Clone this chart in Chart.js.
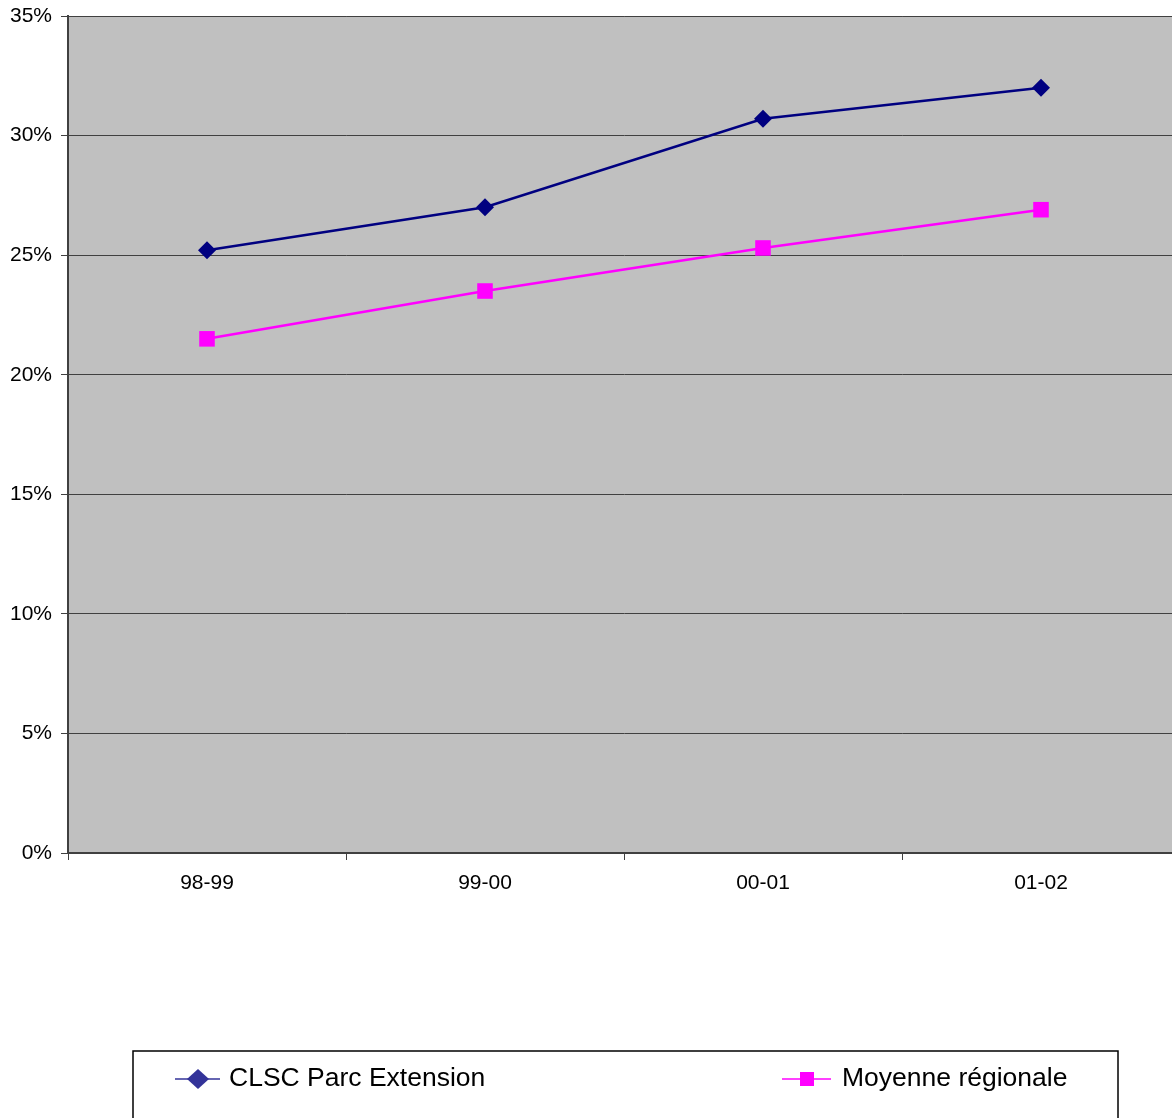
<!DOCTYPE html>
<html>
<head>
<meta charset="utf-8">
<script src="https://cdn.jsdelivr.net/npm/chart.js@4/dist/chart.umd.min.js"></script>
<style>
  html, body { margin: 0; padding: 0; background: #fff; overflow: hidden; }
  #wrap { position: relative; width: 1191px; height: 1118px; }
</style>
</head>
<body>
<div id="wrap"><canvas id="c" width="1191" height="1118"></canvas></div>
<script>
// data
const periods = ['98-99', '99-00', '00-01', '01-02'];
const clsc = [25.2, 27.0, 30.7, 32.0];
const moyenne = [21.5, 23.5, 25.3, 26.9];
const seriesNames = ['CLSC Parc Extension', 'Moyenne régionale'];

const FONT = '"Liberation Sans", Arial, sans-serif';

// grey plot background + grey top border
const plotBg = {
  id: 'plotBg',
  beforeDraw(chart) {
    const { ctx, chartArea: a } = chart;
    ctx.save();
    ctx.fillStyle = '#C0C0C0';
    ctx.fillRect(a.left, a.top, a.right - a.left, a.bottom - a.top);
    ctx.strokeStyle = '#808080';
    ctx.lineWidth = 1;
    ctx.beginPath();
    ctx.moveTo(a.left, a.top + 0.5);
    ctx.lineTo(a.right, a.top + 0.5);
    ctx.stroke();
    ctx.restore();
  }
};

// boxed legend at the bottom
const boxLegend = {
  id: 'boxLegend',
  afterDraw(chart) {
    const ctx = chart.ctx;
    ctx.save();
    ctx.strokeStyle = '#000';
    ctx.lineWidth = 1.5;
    ctx.strokeRect(133, 1051, 985, 120);
    const cy = 1079;
    ctx.font = '26.5px ' + FONT;
    ctx.fillStyle = '#000';
    ctx.textBaseline = 'middle';

    // item 1
    ctx.strokeStyle = '#333399';
    ctx.lineWidth = 1.5;
    ctx.beginPath(); ctx.moveTo(175, cy); ctx.lineTo(220, cy); ctx.stroke();
    ctx.fillStyle = '#333399';
    ctx.beginPath();
    ctx.moveTo(198, cy - 10); ctx.lineTo(209, cy); ctx.lineTo(198, cy + 10); ctx.lineTo(187, cy);
    ctx.closePath(); ctx.fill();
    ctx.fillStyle = '#000';
    ctx.fillText(seriesNames[0], 229, cy);

    // item 2
    ctx.strokeStyle = '#FF00FF';
    ctx.beginPath(); ctx.moveTo(782, cy); ctx.lineTo(831, cy); ctx.stroke();
    ctx.fillStyle = '#FF00FF';
    ctx.fillRect(800, cy - 7, 14, 14);
    ctx.fillStyle = '#000';
    ctx.fillText(seriesNames[1], 842, cy);
    ctx.restore();
  }
};

new Chart(document.getElementById('c'), {
  type: 'line',
  data: {
    labels: periods,
    datasets: [
      {
        label: seriesNames[0],
        data: clsc,
        borderColor: '#000080',
        backgroundColor: '#000080',
        borderWidth: 2.5,
        pointStyle: 'rectRot',
        pointRadius: 9,
        pointBorderWidth: 0,
        tension: 0
      },
      {
        label: seriesNames[1],
        data: moyenne,
        borderColor: '#FF00FF',
        backgroundColor: '#FF00FF',
        borderWidth: 2.5,
        pointStyle: 'rect',
        pointRadius: 11,
        pointBorderWidth: 0,
        tension: 0
      }
    ]
  },
  options: {
    responsive: false,
    animation: false,
    layout: { padding: { top: 16, left: 0, right: 0, bottom: 0 } },
    plugins: { legend: { display: false }, tooltip: { enabled: false } },
    scales: {
      x: {
        offset: true,
        grid: { offset: true, drawOnChartArea: false, drawTicks: true, tickLength: 7, color: '#404040', lineWidth: 1 },
        border: { color: '#404040', width: 2 },
        ticks: { color: '#000', font: { family: FONT, size: 21 }, padding: 11, maxRotation: 0 },
        afterFit: s => { s.height = 265; }
      },
      y: {
        min: 0, max: 35,
        grid: { color: '#404040', lineWidth: 1, tickLength: 7 },
        border: { color: '#404040', width: 2 },
        ticks: { stepSize: 5, color: '#000', font: { family: FONT, size: 21 }, padding: 9, callback: v => v + '%' },
        afterFit: s => { s.width = 68; s.paddingTop = 0; s.paddingBottom = 0; }
      }
    }
  },
  plugins: [plotBg, boxLegend]
});
</script>
</body>
</html>
